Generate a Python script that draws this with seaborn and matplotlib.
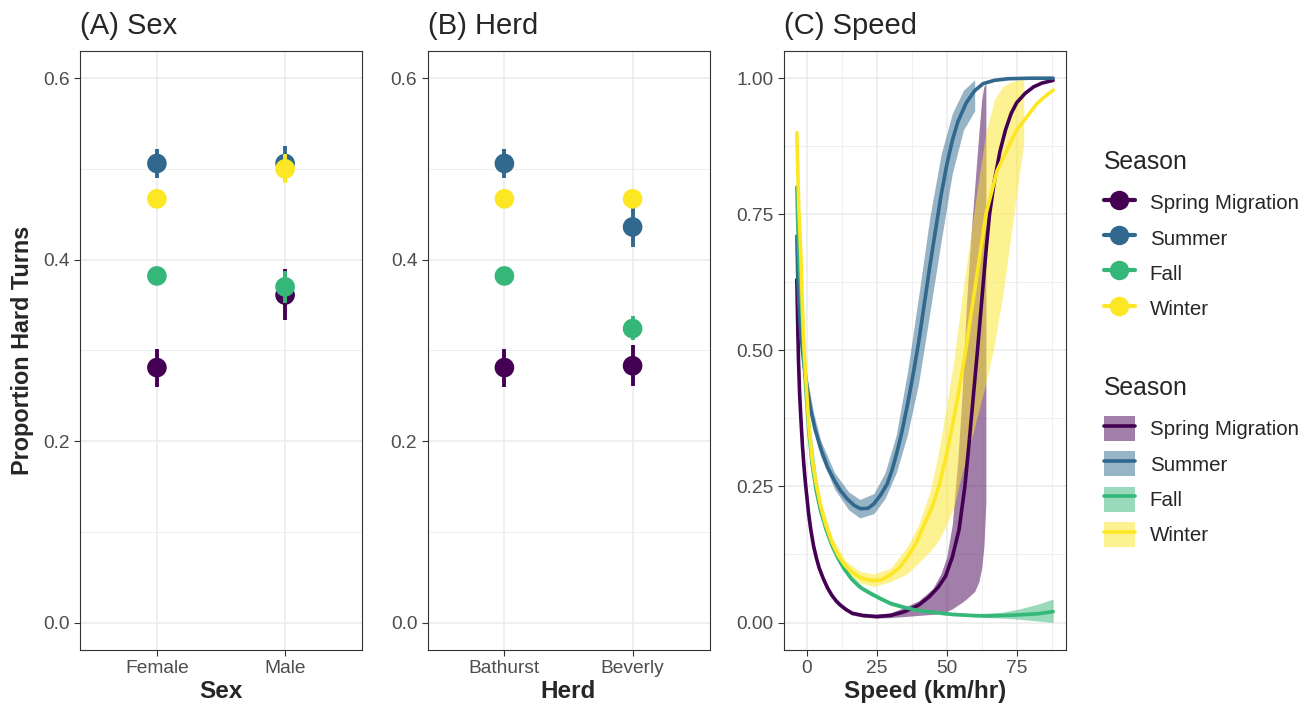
import numpy as np
import pandas as pd
import matplotlib
matplotlib.use("Agg")
import matplotlib.pyplot as plt
import seaborn as sns
from matplotlib.lines import Line2D
from matplotlib.patches import Patch
from matplotlib.ticker import FixedLocator, FuncFormatter

sns.set_theme(style="white")
plt.rcParams['font.family'] = ['Liberation Sans', 'DejaVu Sans']

# ---------------- data ----------------
seasons = ["Spring Migration", "Summer", "Fall", "Winter"]
season_colors = ["#440154", "#31688E", "#35B779", "#FDE725"]

sex_levels = ["Female", "Male"]
# rows: seasons (Spring, Summer, Fall, Winter); cols: levels
sex_est = [[0.281, 0.361], [0.506, 0.506], [0.382, 0.370], [0.467, 0.500]]
sex_lo = [[0.260, 0.334], [0.490, 0.487], [0.372, 0.352], [0.457, 0.484]]
sex_hi = [[0.302, 0.390], [0.522, 0.525], [0.392, 0.388], [0.477, 0.516]]

herd_levels = ["Bathurst", "Beverly"]
herd_est = [[0.281, 0.283], [0.506, 0.436], [0.382, 0.324], [0.467, 0.467]]
herd_lo = [[0.260, 0.261], [0.490, 0.414], [0.372, 0.311], [0.457, 0.457]]
herd_hi = [[0.302, 0.306], [0.522, 0.458], [0.392, 0.338], [0.477, 0.477]]

# Panel C fitted curves
spring_speed = [-3.5, -3.2, -2.9, -2.5, -2, -1.5, -1, -0.5, 0, 0.7, 1.5, 2.5, 3.5, 4.5, 6, 7.5, 9, 10.5, 12,
                14, 16.3, 20, 25, 30, 35, 40, 43.7, 47, 49.6, 52, 54.4, 56.5, 58, 59.5, 61, 62.5, 64, 65.3,
                67, 69, 71, 73, 75, 78, 81, 84, 88]
spring_fit = [0.63, 0.55, 0.48, 0.42, 0.37, 0.325, 0.29, 0.26, 0.235, 0.20, 0.17, 0.14, 0.118, 0.10, 0.08,
              0.063, 0.05, 0.04, 0.032, 0.024, 0.017, 0.013, 0.011, 0.013, 0.02, 0.032, 0.047, 0.065, 0.085,
              0.12, 0.17, 0.25, 0.33, 0.415, 0.50, 0.59, 0.68, 0.75, 0.81, 0.865, 0.905, 0.935, 0.955, 0.972,
              0.984, 0.991, 0.996]
summer_speed = [-3.5, -3.2, -2.8, -2.2, -1.5, -0.5, 0.5, 1.5, 3, 5, 7.5, 10, 12, 14.5, 17, 19.3, 22, 24, 26.5,
                28.8, 30.5, 32.4, 34, 36, 38, 40, 42, 44, 46, 48, 50, 52, 54, 57, 60, 63, 67, 72, 80, 88]
summer_fit = [0.71, 0.64, 0.59, 0.54, 0.50, 0.455, 0.42, 0.39, 0.355, 0.32, 0.285, 0.26, 0.243, 0.227, 0.215,
              0.209, 0.21, 0.218, 0.235, 0.255, 0.28, 0.316, 0.35, 0.40, 0.455, 0.515, 0.585, 0.655, 0.72,
              0.785, 0.84, 0.885, 0.92, 0.955, 0.977, 0.99, 0.996, 0.999, 1.0, 1.0]
fall_speed = [-3.5, -3.2, -2.8, -2.1, -1.5, -1, -0.3, 0.8, 2, 3.5, 5, 7, 9, 11, 13.2, 16, 19, 22.9, 27, 30,
              34.6, 40, 46.7, 52, 58.6, 65, 70.4, 76, 82.4, 88]
fall_fit = [0.80, 0.74, 0.68, 0.61, 0.55, 0.49, 0.43, 0.35, 0.29, 0.24, 0.205, 0.17, 0.142, 0.12, 0.10, 0.08,
            0.065, 0.053, 0.042, 0.035, 0.028, 0.022, 0.018, 0.015, 0.013, 0.012, 0.013, 0.014, 0.016, 0.02]
winter_speed = [-3.5, -3.2, -2.8, -2.1, -1.5, -1, -0.3, 0.8, 2, 3.2, 5, 6.8, 9, 11.4, 14, 16.3, 19, 22, 24,
                26.5, 30, 33, 36, 39, 42, 45, 47.5, 50, 52, 54, 56.8, 58.5, 60, 62, 64, 66, 68, 71.7, 75,
                78.8, 82, 85, 88]
winter_fit = [0.90, 0.84, 0.76, 0.68, 0.58, 0.51, 0.45, 0.36, 0.30, 0.26, 0.215, 0.18, 0.148, 0.122, 0.103,
              0.092, 0.083, 0.078, 0.077, 0.078, 0.088, 0.10, 0.12, 0.145, 0.18, 0.215, 0.255, 0.31, 0.36,
              0.415, 0.50, 0.56, 0.61, 0.68, 0.75, 0.79, 0.83, 0.87, 0.905, 0.93, 0.952, 0.966, 0.978]

# Panel C confidence ribbons
spring_rib_speed = [-3.5, -2, 0, 2, 5, 10, 16, 20, 25, 30, 35, 40, 45, 48, 50, 52, 54, 55.5, 57, 58.5, 60,
                    61.5, 62.5, 63.3, 64]
spring_rib_lo = [0.62, 0.36, 0.225, 0.145, 0.085, 0.037, 0.014, 0.010, 0.008, 0.009, 0.011, 0.013, 0.015,
                 0.017, 0.02, 0.025, 0.032, 0.037, 0.043, 0.05, 0.057, 0.075, 0.10, 0.14, 0.22]
spring_rib_hi = [0.64, 0.38, 0.245, 0.16, 0.093, 0.045, 0.02, 0.016, 0.015, 0.018, 0.028, 0.04, 0.062,
                 0.09, 0.12, 0.18, 0.30, 0.42, 0.58, 0.70, 0.80, 0.90, 0.96, 0.985, 0.99]
summer_rib_speed = [-3.5, -2, 0, 2.5, 5, 10, 15, 19, 24, 28, 32, 36, 40, 44, 48, 52, 56, 60]
summer_rib_lo = [0.70, 0.51, 0.425, 0.355, 0.305, 0.245, 0.207, 0.192, 0.2, 0.228, 0.275, 0.345, 0.44,
                 0.57, 0.70, 0.825, 0.905, 0.94]
summer_rib_hi = [0.72, 0.54, 0.455, 0.385, 0.335, 0.275, 0.24, 0.226, 0.237, 0.275, 0.345, 0.46, 0.60,
                 0.745, 0.86, 0.935, 0.978, 0.997]
fall_rib_speed = [-3.5, 0, 5, 10, 15, 20, 30, 40, 50, 60, 70, 76, 82, 88]
fall_rib_lo = [0.79, 0.39, 0.20, 0.125, 0.084, 0.058, 0.031, 0.019, 0.013, 0.010, 0.008, 0.006, 0.003, 0.0]
fall_rib_hi = [0.81, 0.41, 0.21, 0.135, 0.092, 0.066, 0.039, 0.025, 0.019, 0.016, 0.019, 0.025, 0.033, 0.043]
winter_rib_speed = [-3.5, -2, 0, 2, 5, 9, 14, 19, 24, 30, 36, 40, 44, 47, 50, 52.5, 55, 58, 61, 64, 67, 70,
                    74, 77.5]
winter_rib_lo = [0.89, 0.63, 0.38, 0.29, 0.205, 0.138, 0.093, 0.073, 0.066, 0.075, 0.09, 0.11, 0.13, 0.15,
                 0.18, 0.21, 0.265, 0.32, 0.38, 0.44, 0.51, 0.60, 0.75, 0.88]
winter_rib_hi = [0.91, 0.66, 0.41, 0.31, 0.225, 0.158, 0.113, 0.094, 0.089, 0.10, 0.14, 0.18, 0.24, 0.31,
                 0.40, 0.48, 0.58, 0.69, 0.80, 0.90, 0.96, 0.985, 0.995, 0.998]

# ---------------- style ----------------
W, H = 1309, 715
fig = plt.figure(figsize=(W / 100, H / 100), dpi=100)
fig.patch.set_facecolor("white")

GRID = "#EBEBEB"
TICKC = "#4D4D4D"
TITLE_FS = 21
AXT_FS = 17.5
TICK_FS = 13.8


def px_axes(left, right, top, bottom):
    return fig.add_axes([left / W, (H - bottom) / H, (right - left) / W, (bottom - top) / H])


def style_axes(ax):
    ax.set_facecolor("white")
    for s in ax.spines.values():
        s.set_color("#333333")
        s.set_linewidth(0.8)
        s.set_visible(True)
    ax.grid(True, which="major", color=GRID, lw=1.1, zorder=0)
    ax.grid(True, which="minor", color=GRID, lw=0.55, zorder=0)
    ax.set_axisbelow(True)
    ax.tick_params(axis="both", which="major", length=4.3, width=0.8, color="#333333",
                   labelcolor=TICKC, labelsize=TICK_FS, pad=3, direction="out",
                   bottom=True, left=True)
    ax.tick_params(axis="both", which="minor", length=0)


def pointrange_panel(ax, levels, est, lo, hi, xlabel, title, ylabel=None):
    for i, (season, col) in enumerate(zip(seasons, season_colors)):
        df = pd.DataFrame({"pos": np.arange(len(levels)), "est": est[i], "lo": lo[i], "hi": hi[i]})
        ax.vlines(df["pos"], df["lo"], df["hi"], color=col, lw=2.8, zorder=3 + 2 * i)
        sns.scatterplot(data=df, x="pos", y="est", color=col, s=200, edgecolor="none",
                        ax=ax, zorder=4 + 2 * i, legend=False)
    ax.set_xlim(-0.6, len(levels) - 0.4)
    ax.set_ylim(-0.0303, 0.6303)
    ax.xaxis.set_major_locator(FixedLocator(range(len(levels))))
    ax.set_xticklabels(levels)
    ax.yaxis.set_major_locator(FixedLocator([0.0, 0.2, 0.4, 0.6]))
    ax.yaxis.set_minor_locator(FixedLocator([0.1, 0.3, 0.5]))
    ax.yaxis.set_major_formatter(FuncFormatter(lambda v, p: f"{v:.1f}"))
    style_axes(ax)
    ax.set_xlabel(xlabel, fontsize=AXT_FS, fontweight="bold", labelpad=2)
    if ylabel:
        ax.set_ylabel(ylabel, fontsize=16.8, fontweight="bold", labelpad=7)
    else:
        ax.set_ylabel("")
    ax.set_title(title, loc="left", fontsize=TITLE_FS, pad=12)


axA = px_axes(80, 362, 50.7, 650)
pointrange_panel(axA, sex_levels, sex_est, sex_lo, sex_hi, "Sex", "(A) Sex", "Proportion Hard Turns")

axB = px_axes(427.5, 709.5, 50.7, 650)
pointrange_panel(axB, herd_levels, herd_est, herd_lo, herd_hi, "Herd", "(B) Herd")

# ---------------- panel C ----------------
axC = px_axes(784, 1066, 50.7, 650)
curves = pd.concat([
    pd.DataFrame({"speed": spring_speed, "prob": spring_fit, "Season": seasons[0]}),
    pd.DataFrame({"speed": summer_speed, "prob": summer_fit, "Season": seasons[1]}),
    pd.DataFrame({"speed": fall_speed, "prob": fall_fit, "Season": seasons[2]}),
    pd.DataFrame({"speed": winter_speed, "prob": winter_fit, "Season": seasons[3]}),
], ignore_index=True)
ribbons = [
    (spring_rib_speed, spring_rib_lo, spring_rib_hi),
    (summer_rib_speed, summer_rib_lo, summer_rib_hi),
    (fall_rib_speed, fall_rib_lo, fall_rib_hi),
    (winter_rib_speed, winter_rib_lo, winter_rib_hi),
]
for (sp, lo, hi), col in zip(ribbons, season_colors):
    axC.fill_between(sp, lo, hi, color=col, alpha=0.5, lw=0, zorder=2)
sns.lineplot(data=curves, x="speed", y="prob", hue="Season", hue_order=seasons,
             palette=season_colors, estimator=None, sort=False, lw=2.6, legend=False,
             ax=axC, zorder=3)
axC.set_xlim(-8.08, 92.6)
axC.set_ylim(-0.0505, 1.0505)
axC.xaxis.set_major_locator(FixedLocator([0, 25, 50, 75]))
axC.xaxis.set_minor_locator(FixedLocator([-12.5, 12.5, 37.5, 62.5, 87.5]))
axC.yaxis.set_major_locator(FixedLocator([0, 0.25, 0.5, 0.75, 1.0]))
axC.yaxis.set_minor_locator(FixedLocator([0.125, 0.375, 0.625, 0.875]))
axC.yaxis.set_major_formatter(FuncFormatter(lambda v, p: f"{v:.2f}"))
style_axes(axC)
axC.set_xlabel("Speed (km/hr)", fontsize=AXT_FS, fontweight="bold", labelpad=2)
axC.set_ylabel("")
axC.set_title("(C) Speed", loc="left", fontsize=TITLE_FS, pad=12)

# ---------------- legends ----------------
LEG_FS = 14.8
LEG_KW = dict(loc="upper left", frameon=False, fontsize=LEG_FS, title_fontsize=17.8,
              handlelength=1.5, handleheight=1.5, handletextpad=0.72, labelspacing=0.5,
              alignment="left", borderaxespad=0, borderpad=0)
pt_handles = [Line2D([0], [0], color=c, lw=3, marker="o", markersize=14, markeredgewidth=0)
              for c in season_colors]
leg1 = fig.legend(pt_handles, seasons, title="Season", bbox_to_anchor=(1104 / W, 1 - 150 / H), **LEG_KW)
rib_handles = [(Patch(facecolor=c, alpha=0.5, edgecolor="none"), Line2D([0], [0], color=c, lw=2.6))
               for c in season_colors]
leg2 = fig.legend(rib_handles, seasons, title="Season", bbox_to_anchor=(1104 / W, 1 - 376 / H), **LEG_KW)
for lg in (leg1, leg2):
    lg._legend_box.sep = 11.5

fig.savefig("out.png", dpi=100, facecolor="white")
